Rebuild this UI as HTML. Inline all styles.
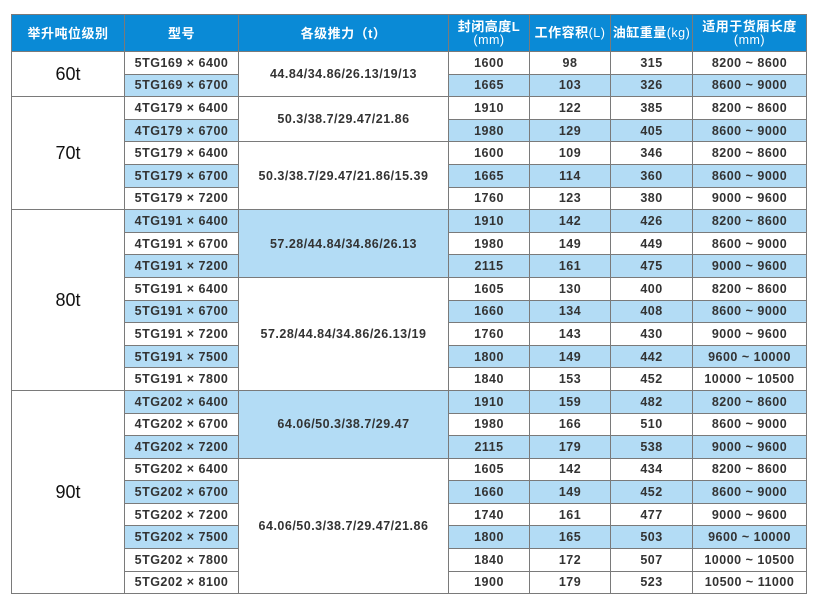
<!DOCTYPE html>
<html><head><meta charset="utf-8"><style>
body{margin:0;background:#fff;width:820px;height:601px;overflow:hidden}
table{position:absolute;left:11px;top:14px;border-collapse:collapse;table-layout:fixed;width:795px;font-family:"Liberation Sans","Noto Sans CJK SC",sans-serif;color:#333}
td,th{border:1px solid #7a7a7a;text-align:center;padding:0;font-weight:bold;font-size:12.5px;letter-spacing:0.5px;white-space:nowrap;overflow:hidden}
th{background:#0a8ad6;color:#fff;height:36px;font-size:13px;line-height:13px;font-weight:bold}
th span{font-weight:normal;font-size:12.5px}
tr.r td{height:21.6px;line-height:20px}
.b{background:#b3dcf5}
.t{font-weight:normal;font-size:18px;letter-spacing:0;color:#111}
</style></head><body>
<table>
<colgroup><col style="width:113px"><col style="width:114px"><col style="width:210px"><col style="width:81px"><col style="width:81px"><col style="width:82px"><col style="width:114px"></colgroup>
<tr><th>举升吨位级别</th><th>型号</th><th>各级推力（t）</th><th>封闭高度L<br><span>(mm)</span></th><th>工作容积<span>(L)</span></th><th>油缸重量<span>(kg)</span></th><th>适用于货厢长度<br><span>(mm)</span></th></tr>
<tr class="r"><td rowspan="2" class="t">60t</td><td>5TG169 × 6400</td><td rowspan="2">44.84/34.86/26.13/19/13</td><td>1600</td><td>98</td><td>315</td><td>8200 ~ 8600</td></tr>
<tr class="r b"><td class="b">5TG169 × 6700</td><td class="b">1665</td><td class="b">103</td><td class="b">326</td><td class="b">8600 ~ 9000</td></tr>
<tr class="r"><td rowspan="5" class="t">70t</td><td>4TG179 × 6400</td><td rowspan="2">50.3/38.7/29.47/21.86</td><td>1910</td><td>122</td><td>385</td><td>8200 ~ 8600</td></tr>
<tr class="r"><td class="b">4TG179 × 6700</td><td class="b">1980</td><td class="b">129</td><td class="b">405</td><td class="b">8600 ~ 9000</td></tr>
<tr class="r"><td>5TG179 × 6400</td><td rowspan="3">50.3/38.7/29.47/21.86/15.39</td><td>1600</td><td>109</td><td>346</td><td>8200 ~ 8600</td></tr>
<tr class="r"><td class="b">5TG179 × 6700</td><td class="b">1665</td><td class="b">114</td><td class="b">360</td><td class="b">8600 ~ 9000</td></tr>
<tr class="r"><td>5TG179 × 7200</td><td>1760</td><td>123</td><td>380</td><td>9000 ~ 9600</td></tr>
<tr class="r"><td rowspan="8" class="t">80t</td><td class="b">4TG191 × 6400</td><td rowspan="3" class="b">57.28/44.84/34.86/26.13</td><td class="b">1910</td><td class="b">142</td><td class="b">426</td><td class="b">8200 ~ 8600</td></tr>
<tr class="r"><td>4TG191 × 6700</td><td>1980</td><td>149</td><td>449</td><td>8600 ~ 9000</td></tr>
<tr class="r"><td class="b">4TG191 × 7200</td><td class="b">2115</td><td class="b">161</td><td class="b">475</td><td class="b">9000 ~ 9600</td></tr>
<tr class="r"><td>5TG191 × 6400</td><td rowspan="5">57.28/44.84/34.86/26.13/19</td><td>1605</td><td>130</td><td>400</td><td>8200 ~ 8600</td></tr>
<tr class="r"><td class="b">5TG191 × 6700</td><td class="b">1660</td><td class="b">134</td><td class="b">408</td><td class="b">8600 ~ 9000</td></tr>
<tr class="r"><td>5TG191 × 7200</td><td>1760</td><td>143</td><td>430</td><td>9000 ~ 9600</td></tr>
<tr class="r"><td class="b">5TG191 × 7500</td><td class="b">1800</td><td class="b">149</td><td class="b">442</td><td class="b">9600 ~ 10000</td></tr>
<tr class="r"><td>5TG191 × 7800</td><td>1840</td><td>153</td><td>452</td><td>10000 ~ 10500</td></tr>
<tr class="r"><td rowspan="9" class="t">90t</td><td class="b">4TG202 × 6400</td><td rowspan="3" class="b">64.06/50.3/38.7/29.47</td><td class="b">1910</td><td class="b">159</td><td class="b">482</td><td class="b">8200 ~ 8600</td></tr>
<tr class="r"><td>4TG202 × 6700</td><td>1980</td><td>166</td><td>510</td><td>8600 ~ 9000</td></tr>
<tr class="r"><td class="b">4TG202 × 7200</td><td class="b">2115</td><td class="b">179</td><td class="b">538</td><td class="b">9000 ~ 9600</td></tr>
<tr class="r"><td>5TG202 × 6400</td><td rowspan="6">64.06/50.3/38.7/29.47/21.86</td><td>1605</td><td>142</td><td>434</td><td>8200 ~ 8600</td></tr>
<tr class="r"><td class="b">5TG202 × 6700</td><td class="b">1660</td><td class="b">149</td><td class="b">452</td><td class="b">8600 ~ 9000</td></tr>
<tr class="r"><td>5TG202 × 7200</td><td>1740</td><td>161</td><td>477</td><td>9000 ~ 9600</td></tr>
<tr class="r"><td class="b">5TG202 × 7500</td><td class="b">1800</td><td class="b">165</td><td class="b">503</td><td class="b">9600 ~ 10000</td></tr>
<tr class="r"><td>5TG202 × 7800</td><td>1840</td><td>172</td><td>507</td><td>10000 ~ 10500</td></tr>
<tr class="r"><td>5TG202 × 8100</td><td>1900</td><td>179</td><td>523</td><td>10500 ~ 11000</td></tr>
</table>
</body></html>
